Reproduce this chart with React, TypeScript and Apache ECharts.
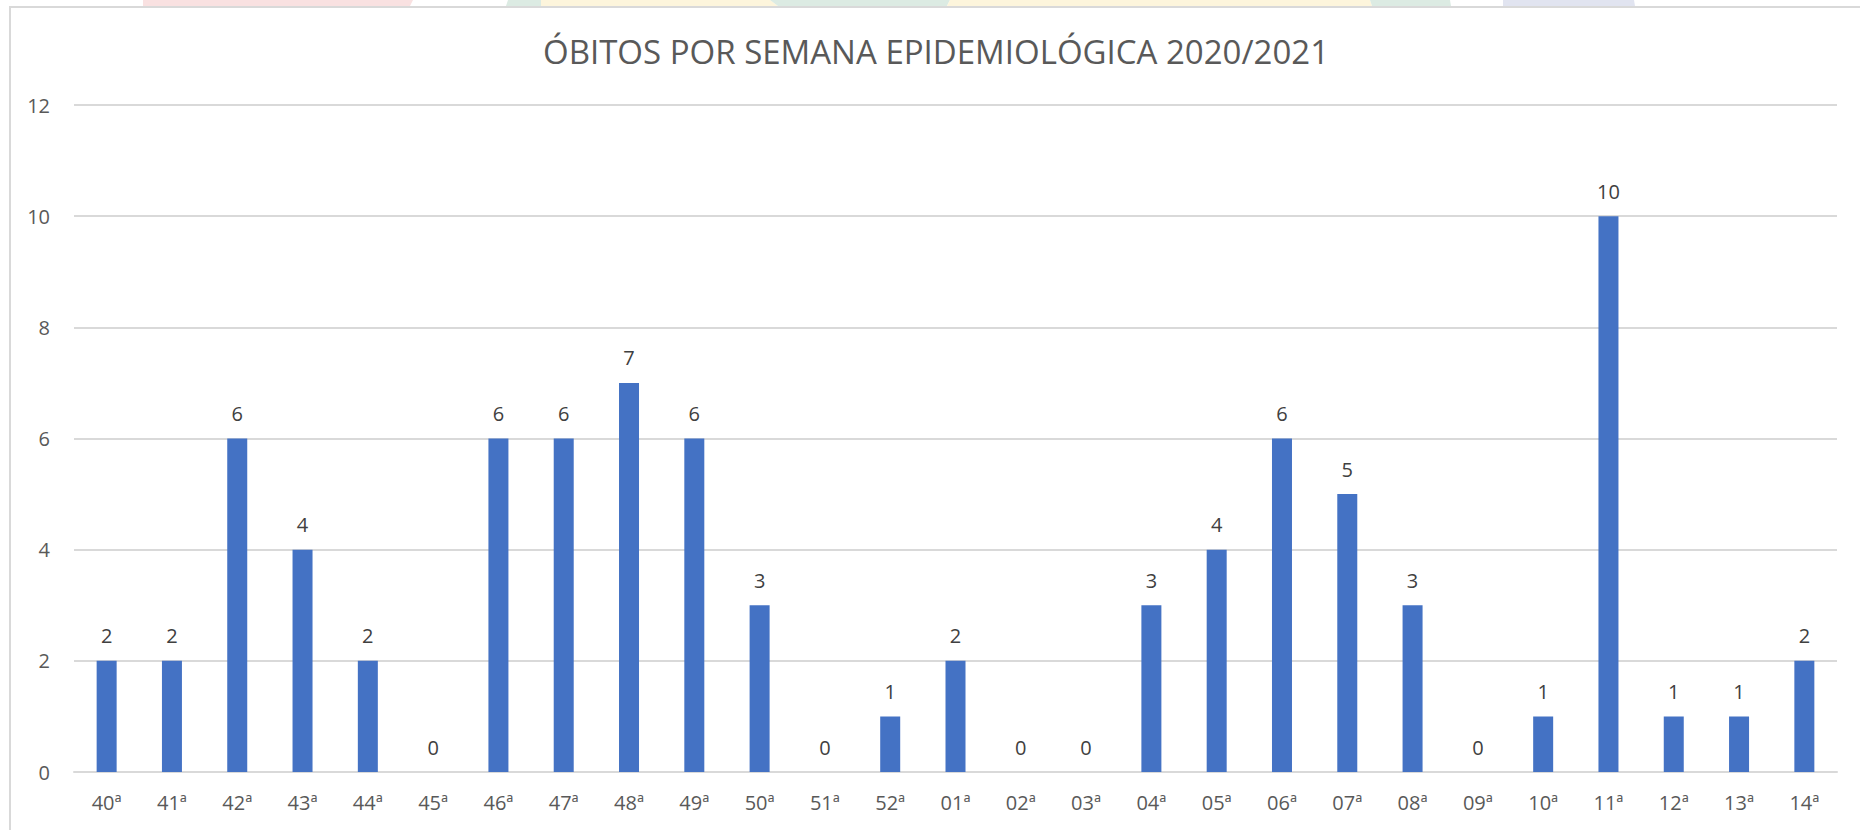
import React, { useEffect, useRef } from "react";
import * as echarts from "echarts";

const TITLE = "ÓBITOS POR SEMANA EPIDEMIOLÓGICA 2020/2021";
const weeks = [
  "40ª", "41ª", "42ª", "43ª", "44ª", "45ª", "46ª", "47ª", "48ª", "49ª", "50ª", "51ª", "52ª",
  "01ª", "02ª", "03ª", "04ª", "05ª", "06ª", "07ª", "08ª", "09ª", "10ª", "11ª", "12ª", "13ª", "14ª",
];
const deaths = [2, 2, 6, 4, 2, 0, 6, 6, 7, 6, 3, 0, 1, 2, 0, 0, 3, 4, 6, 5, 3, 0, 1, 10, 1, 1, 2];
const yTicks = { min: 0, max: 12, interval: 2 };

const FONT = "'Open Sans', 'Noto Sans', sans-serif";

export default function App() {
  const ref = useRef<HTMLDivElement>(null);
  useEffect(() => {
    if (!ref.current) return;
    const chart = echarts.init(ref.current, null, { renderer: "svg" });
    const band = (pts: number[][], fill: string) => ({
      type: "polygon",
      shape: { points: pts },
      style: { fill },
      silent: true,
    });
    chart.setOption({
      animation: false,
      backgroundColor: "#ffffff",
      textStyle: { fontFamily: FONT },
      graphic: [
        band([[143, 0], [413, 0], [410, 6], [143, 6]], "#f9e1e1"),
        band([[508, 0], [541, 0], [541, 6], [506, 6]], "#dcebe3"),
        band([[541, 0], [770, 0], [778, 6], [541, 6]], "#fdf5dc"),
        band([[770, 0], [950, 0], [947, 6], [778, 6]], "#dcebe3"),
        band([[950, 0], [1370, 0], [1372, 6], [947, 6]], "#fdf5dc"),
        band([[1370, 0], [1450, 0], [1451, 6], [1372, 6]], "#dcebe3"),
        band([[1503, 0], [1634, 0], [1635, 6], [1503, 6]], "#e1e4f0"),
        {
          type: "polyline",
          shape: { points: [[10, 830], [10, 7], [1860, 7]] },
          style: { stroke: "#d9d9d9", lineWidth: 2, fill: "none" },
          silent: true,
        },
        {
          type: "text",
          x: 936,
          y: 51,
          style: {
            text: TITLE,
            fontSize: 33,
            fontFamily: FONT,
            fill: "#595959",
            align: "center",
            verticalAlign: "middle",
          },
        },
      ],
      grid: { left: 74, right: 23, top: 105, bottom: 58, containLabel: false },
      xAxis: {
        type: "category",
        data: weeks,
        axisLine: { show: true, lineStyle: { color: "#d9d9d9", width: 2 } },
        axisTick: { show: false },
        axisLabel: { color: "#595959", fontSize: 20, fontFamily: FONT, margin: 20, interval: 0 },
      },
      yAxis: {
        type: "value",
        min: yTicks.min,
        max: yTicks.max,
        interval: yTicks.interval,
        axisLine: { show: false },
        axisTick: { show: false },
        splitLine: { lineStyle: { color: "#d9d9d9", width: 2 } },
        axisLabel: { color: "#595959", fontSize: 20, fontFamily: FONT, margin: 24 },
      },
      series: [
        {
          type: "bar",
          data: deaths,
          barWidth: 20,
          itemStyle: { color: "#4472c4" },
          label: {
            show: true,
            position: "top",
            distance: 14,
            color: "#404040",
            fontSize: 20,
            lineHeight: 22,
            fontFamily: FONT,
          },
        },
      ],
    });
    return () => chart.dispose();
  }, []);
  return (
    <div
      ref={ref}
      style={{ position: "absolute", left: 0, top: 0, width: 1860, height: 830 }}
    />
  );
}
